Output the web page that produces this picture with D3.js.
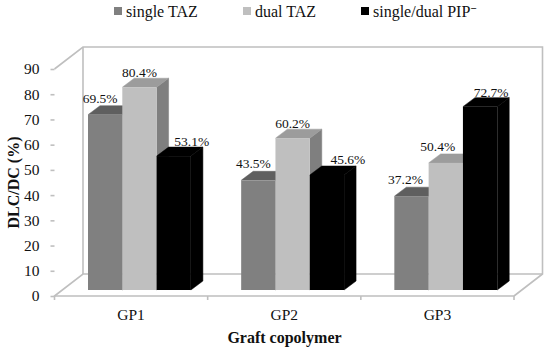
<!DOCTYPE html>
<html>
<head>
<meta charset="utf-8">
<title>Graft copolymer DLC/DC</title>
<script src="https://cdn.jsdelivr.net/npm/d3@7"></script>
<style>
    html, body { margin: 0; padding: 0; background: #fff; }
    svg { display: block; }
    text { font-family: "Liberation Serif", serif; fill: #111; }
</style>
</head>
<body>
<svg id="svg" width="550" height="351"></svg>
<script>
// values
const groups = ['GP1', 'GP2', 'GP3']
const seriesNames = ['single TAZ', 'dual TAZ', 'single/dual PIP']
const singleTaz = [69.5, 43.5, 37.2]
const dualTaz = [80.4, 60.2, 50.4]
const singleDualPip = [53.1, 45.6, 72.7]
const yTicks = [0, 10, 20, 30, 40, 50, 60, 70, 80, 90]

const allSeries = [singleTaz, dualTaz, singleDualPip]

// front, top, side colours per series
const colors = [
    ['#808080', '#5f5f5f', '#5f5f5f'],
    ['#bfbfbf', '#9c9c9c', '#7f7f7f'],
    ['#000000', '#000000', '#000000']
]

// the labels were moved by hand in the original, [dx, dy] from the bar top
const labelNudge = [
    [[-5, -11.5], [0, -10], [18, -10]],
    [[-5, -12], [0, -10], [21, -11]],
    [[-6, -12], [-8, -12], [11, -10]]
]

const svg = d3.select('#svg')

const left = 54.5, right = 514, floorY = 296, topY = 69
const depthX = 28.5, depthY = 22      // chart box depth
const barDepthX = 12, barDepthY = 9   // bar depth
const barW = 34.3
const barShiftX = 33.5, barShiftY = 6 // bars stand inside the floor

const x0 = d3.scaleBand().domain(groups).range([left, right])
const x1 = d3.scaleBand().domain(d3.range(3)).range([0, barW * 3])
const y = d3.scaleLinear().domain([0, 90]).range([floorY, topY])

const wall = '#bfbfbf'

// back wall and floor
const frame = svg.append('g').attr('fill', 'none').attr('stroke', wall).attr('stroke-width', 1.6)
frame.append('path').attr('d', d3.line()([
    [left, y(90)], [left + depthX, y(90) - depthY], [right + depthX, y(90) - depthY], [right + depthX, floorY - depthY], [right, floorY]
]))
frame.append('path').attr('d', d3.line()([
    [left, floorY], [left + depthX, floorY - depthY], [right + depthX, floorY - depthY]
]))
frame.append('line').attr('x1', left + depthX).attr('x2', left + depthX)
    .attr('y1', y(90) - depthY).attr('y2', floorY - depthY)

// bars
const poly = d3.line()
groups.forEach((g, gi) => {
    allSeries.forEach((vals, si) => {
        const xa = x0(g) + barShiftX + x1(si)
        const xb = xa + barW
        const yb = y(0) - barShiftY
        const yt = y(vals[gi]) - barShiftY
        const c = colors[si]
        // thin stroke closes the seam between the faces
        svg.append('path').attr('fill', c[2]).attr('stroke', c[2]).attr('stroke-width', 0.5).attr('d', poly([
            [xb, yt], [xb + barDepthX, yt - barDepthY], [xb + barDepthX, yb - barDepthY], [xb, yb]
        ]))
        svg.append('path').attr('fill', c[1]).attr('stroke', c[1]).attr('stroke-width', 0.5).attr('d', poly([
            [xa, yt], [xa + barDepthX, yt - barDepthY], [xb + barDepthX, yt - barDepthY], [xb, yt]
        ]))
        svg.append('rect').attr('x', xa).attr('y', yt).attr('width', barW).attr('height', yb - yt).attr('fill', c[0])
    })
})

// value labels go on top of all bars
groups.forEach((g, gi) => {
    allSeries.forEach((vals, si) => {
        const n = labelNudge[gi][si]
        svg.append('text')
            .attr('x', x0(g) + barShiftX + x1(si) + barW / 2 + n[0])
            .attr('y', y(vals[gi]) - barShiftY + n[1])
            .attr('text-anchor', 'middle')
            .attr('font-size', 13.5)
            .text(vals[gi].toFixed(1) + '%')
    })
})

// y axis, no domain line
const yAxis = svg.append('g').attr('transform', 'translate(' + left + ',0)')
    .call(d3.axisLeft(y).tickValues(yTicks).tickSize(4).tickPadding(11))
yAxis.select('.domain').remove()
yAxis.selectAll('line').attr('stroke', wall).attr('stroke-width', 1.6)
yAxis.selectAll('text').attr('font-size', 15.5).attr('font-family', '"Liberation Serif", serif').attr('fill', '#111')

// x axis
const xAxis = svg.append('g').attr('transform', 'translate(0,' + floorY + ')')
    .call(d3.axisBottom(x0).tickSize(0).tickPadding(13))
xAxis.select('.domain').attr('stroke', wall).attr('stroke-width', 1.6)
    .attr('d', 'M' + left + ',4V0H' + right + 'V4')
xAxis.selectAll('text').attr('font-size', 15.5).attr('font-family', '"Liberation Serif", serif').attr('fill', '#111')
x0.domain().slice(1).forEach((g) => {
    xAxis.append('line').attr('x1', x0(g)).attr('x2', x0(g)).attr('y1', 0).attr('y2', 4)
        .attr('stroke', wall).attr('stroke-width', 1.6)
})

// axis titles
svg.append('text').attr('x', 284.5).attr('y', 343).attr('text-anchor', 'middle')
    .attr('font-size', 16).attr('font-weight', 'bold').text('Graft copolymer')
svg.append('text').attr('transform', 'translate(18.5,182.5) rotate(-90)').attr('text-anchor', 'middle')
    .attr('font-size', 16).attr('font-weight', 'bold').text('DLC/DC (%)')

// legend
const legendX = [114, 243, 361]
seriesNames.forEach((name, i) => {
    svg.append('rect').attr('x', legendX[i]).attr('y', 7).attr('width', 8).attr('height', 8).attr('fill', colors[i][0])
    const t = svg.append('text').attr('x', legendX[i] + 12).attr('y', 17).attr('font-size', 16).text(name)
    if (i === 2) t.append('tspan').attr('dy', -5).attr('font-size', 11).attr('font-weight', 'bold').text('\u2212')
})
</script>
</body>
</html>
